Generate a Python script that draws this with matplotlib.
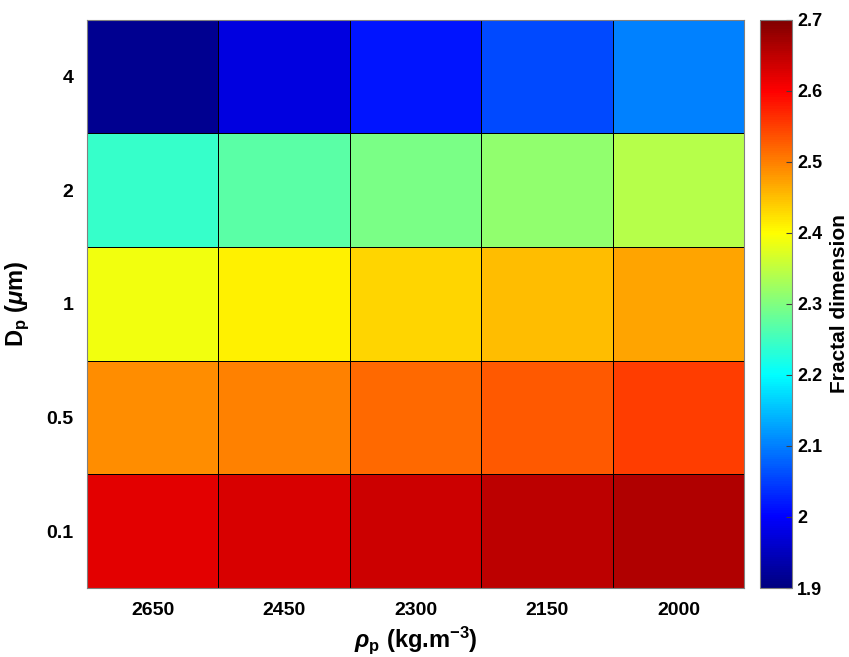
import matplotlib.pyplot as plt
import numpy as np
from matplotlib.colors import LinearSegmentedColormap

plt.rcParams['font.family'] = ['Liberation Sans', 'DejaVu Sans']
plt.rcParams['font.weight'] = 'bold'
plt.rcParams['mathtext.fontset'] = 'custom'
plt.rcParams['mathtext.rm'] = 'Liberation Sans:bold'
plt.rcParams['mathtext.it'] = 'Liberation Sans:italic:bold'
plt.rcParams['mathtext.bf'] = 'Liberation Sans:bold'

# particle density (kg/m3) and particle diameter (um)
rho_p = ['2650', '2450', '2300', '2150', '2000']
d_p = ['0.1', '0.5', '1', '2', '4']

# fractal dimension, rows follow d_p (bottom to top), columns follow rho_p
fd_01 = [2.620, 2.631, 2.640, 2.651, 2.660]
fd_05 = [2.490, 2.498, 2.518, 2.530, 2.553]
fd_1 = [2.388, 2.412, 2.432, 2.451, 2.470]
fd_2 = [2.243, 2.270, 2.294, 2.314, 2.341]
fd_4 = [1.914, 1.976, 2.016, 2.058, 2.102]

fd = np.array([fd_01, fd_05, fd_1, fd_2, fd_4])

# matlab style jet
mjet = LinearSegmentedColormap('mjet', {
    'red': [(0, 0, 0), (3/8, 0, 0), (5/8, 1, 1), (7/8, 1, 1), (1, 0.5, 0.5)],
    'green': [(0, 0, 0), (1/8, 0, 0), (3/8, 1, 1), (5/8, 1, 1), (7/8, 0, 0), (1, 0, 0)],
    'blue': [(0, 0.5, 0.5), (1/8, 1, 1), (3/8, 1, 1), (5/8, 0, 0), (1, 0, 0)],
}, N=256)

fig = plt.figure(figsize=(8.49, 6.57), dpi=100)
ax = fig.add_axes([0.1025, 0.105, 0.774, 0.865])
cax = fig.add_axes([0.895, 0.105, 0.038, 0.865])

mesh = ax.pcolormesh(np.arange(len(rho_p) + 1), np.arange(len(d_p) + 1), fd,
                     cmap=mjet, vmin=1.9, vmax=2.7,
                     edgecolors='k', linewidth=0.6)

ax.set_xticks(np.arange(len(rho_p)) + 0.5)
ax.set_xticklabels(rho_p)
ax.set_yticks(np.arange(len(d_p)) + 0.5)
ax.set_yticklabels(d_p)
ax.tick_params(length=0, labelsize=14, pad=10)
for s in ax.spines.values():
    s.set_color('#808080')
    s.set_linewidth(0.8)

ax.set_xlabel(r'$\rho_{\rm p}$ (kg.m$^{\mathregular{-3}}$)', fontsize=17, fontweight='bold', labelpad=4)
ax.set_ylabel(r'D$_{\rm p}$ ($\mu$m)', fontsize=17, fontweight='bold', labelpad=10)

cb = fig.colorbar(mesh, cax=cax)
cb.set_ticks([1.9, 2.0, 2.1, 2.2, 2.3, 2.4, 2.5, 2.6, 2.7])
cb.set_ticklabels(['1.9', '2', '2.1', '2.2', '2.3', '2.4', '2.5', '2.6', '2.7'])
cb.ax.tick_params(labelsize=13, direction='in', length=4, color='#404040')
cb.outline.set_edgecolor('#808080')
cb.set_label('Fractal dimension', fontsize=15, fontweight='bold', labelpad=6)

fig.savefig('out.png', dpi=100)
